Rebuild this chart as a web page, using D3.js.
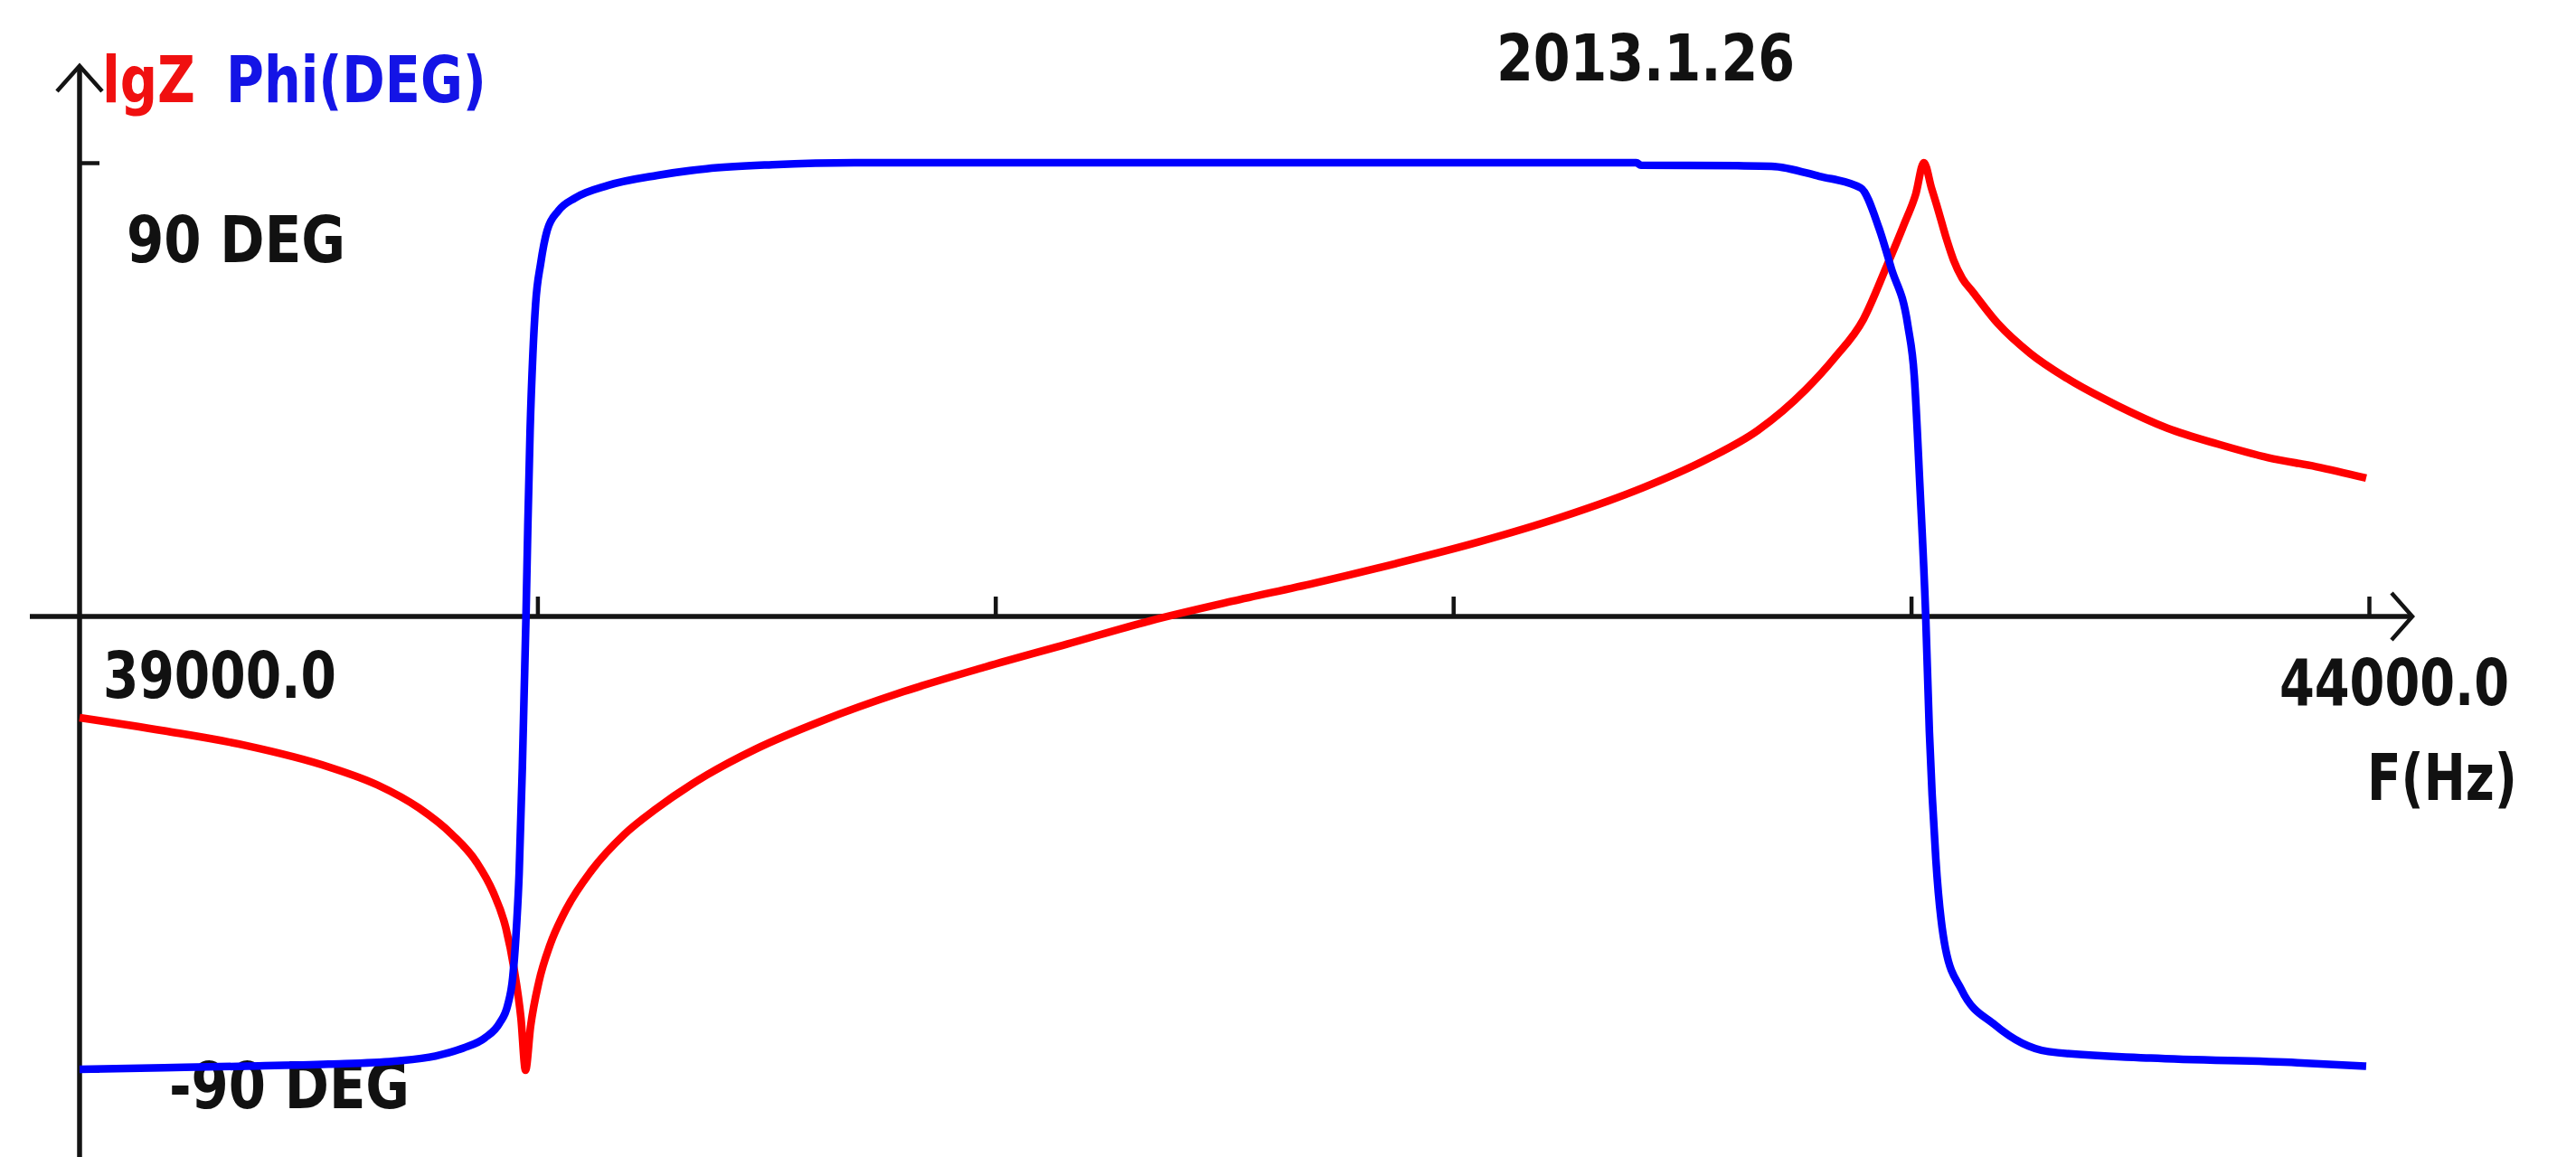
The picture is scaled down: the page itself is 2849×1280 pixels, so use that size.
<!DOCTYPE html>
<html>
<head>
<meta charset="utf-8">
<script src="https://cdn.jsdelivr.net/npm/d3@7"></script>
<style>
  html, body { margin: 0; padding: 0; background: #ffffff; }
  svg { display: block; }
  text { font-family: "DejaVu Sans Condensed", "DejaVu Sans", sans-serif; font-weight: bold; }
</style>
</head>
<body>
<svg id="chart" width="2849" height="1280"></svg>
<script>
// ---------- data ----------
const xDomain = [39000, 44000];
const xTickValues = [40000, 41000, 42000, 43000, 44000];
const xStartLabel = "39000.0";
const xEndLabel = "44000.0";
const xAxisTitle = "F(Hz)";
const phaseDomain = [-90, 90];
const phaseTickValues = [90, -90];
const phaseTopLabel = "90 DEG";
const phaseBottomLabel = "-90 DEG";
const lgzDomain = [1, 5];
const titleText = "2013.1.26";
const lgzTitle = "lgZ";
const phiTitle = "Phi(DEG)";

// impedance magnitude (lgZ) curve
const lgzFreq = [39000, 39185, 39364, 39544, 39651, 39741, 39813, 39867, 39903, 39931,
                 39949, 39964, 39974, 39985, 40003, 40028, 40064, 40118, 40190, 40261,
                 40369, 40477, 40620, 40800, 40979, 41158, 41338, 41517, 41697, 41876,
                 42055, 42235, 42414, 42558, 42665, 42770, 42833, 42896, 42946, 42985,
                 43010, 43028, 43045, 43055, 43078, 43093, 43112, 43135, 43190, 43260,
                 43340, 43450, 43560, 43670, 43780, 43885, 43994];
const lgzValues = [2.554, 2.496, 2.431, 2.337, 2.257, 2.156, 2.040, 1.917, 1.786, 1.627,
                   1.446, 1.229, 1.000, 1.193, 1.388, 1.555, 1.714, 1.880, 2.040, 2.155,
                   2.300, 2.416, 2.539, 2.669, 2.778, 2.879, 2.981, 3.067, 3.147, 3.234,
                   3.328, 3.437, 3.567, 3.697, 3.820, 4.000, 4.140, 4.310, 4.540, 4.730,
                   4.860, 5.000, 4.885, 4.820, 4.660, 4.570, 4.490, 4.430, 4.290, 4.160,
                   4.050, 3.930, 3.830, 3.760, 3.700, 3.660, 3.610];

// phase curve (degrees)
const phaseFreq = [39000, 39185, 39364, 39544, 39687, 39777, 39838, 39885, 39917, 39935,
                   39946, 39953, 39960, 39967, 39971, 39975, 39979, 39984, 39990, 39996,
                   40007, 40021, 40046, 40082, 40154, 40262, 40369, 40513, 40692, 42400,
                   42410, 42620, 42695, 42800, 42890, 42930, 42957, 42993, 43007, 43019,
                   43032, 43040, 43054, 43075, 43110, 43183, 43300, 43524, 43844, 43994];
const phaseValues = [-89.8, -89.5, -89.2, -88.8, -88.2, -87.2, -85.6, -83.6, -80.7, -77.1,
                     -71.6, -63.4, -51.0, -30.0, -15.0, 0.0, 18.0, 37.0, 52.0, 62.0,
                     70.0, 76.5, 80.5, 83.0, 85.5, 87.5, 88.8, 89.6, 90.0, 90.0,
                     89.5, 89.4, 89.3, 87.3, 85.0, 77.0, 69.0, 57.7, 47.7, 26.4,
                     0.0, -22.9, -48.0, -65.8, -74.0, -81.0, -86.3, -87.6, -88.5, -89.2];

// ---------- drawing ----------
const svg = d3.select("#chart");
svg.append("rect").attr("width", 2849).attr("height", 1280).attr("fill", "#ffffff");

const x = d3.scaleLinear().domain(xDomain).range([88, 2620]);
const yPhase = d3.scaleLinear().domain(phaseDomain).range([1184, 180]);
const yLgz = d3.scaleLinear().domain(lgzDomain).range([1184, 180]);

const axisColor = "#141414";
const y0 = yPhase(0);
const xAxisX = x(xDomain[0]);

// x axis line with open arrow
svg.append("line").attr("x1", 33).attr("x2", 2668).attr("y1", y0).attr("y2", y0)
  .attr("stroke", axisColor).attr("stroke-width", 5.5);
svg.append("path")
  .attr("d", `M${2645},${y0 - 26} L${2668},${y0} L${2645},${y0 + 26}`)
  .attr("fill", "none").attr("stroke", axisColor).attr("stroke-width", 4.5);

// x ticks (upward)
const xAxis = d3.axisTop(x).tickValues(xTickValues).tickSize(22).tickSizeOuter(0).tickFormat("");
const gx = svg.append("g").attr("transform", `translate(0,${y0})`).call(xAxis);
gx.select(".domain").remove();
gx.selectAll(".tick line").attr("stroke", axisColor).attr("stroke-width", 4.5);

// y axis line with open arrow
svg.append("line").attr("x1", xAxisX).attr("x2", xAxisX).attr("y1", 73).attr("y2", 1280)
  .attr("stroke", axisColor).attr("stroke-width", 5.5);
svg.append("path")
  .attr("d", `M${xAxisX - 25},${101} L${xAxisX},${73} L${xAxisX + 25},${101}`)
  .attr("fill", "none").attr("stroke", axisColor).attr("stroke-width", 4.5);

// y ticks (rightward) at +/-90
const yAxis = d3.axisRight(yPhase).tickValues(phaseTickValues).tickSize(22).tickSizeOuter(0).tickFormat("");
const gy = svg.append("g").attr("transform", `translate(${xAxisX},0)`).call(yAxis);
gy.select(".domain").remove();
gy.selectAll(".tick line").attr("stroke", axisColor).attr("stroke-width", 4.5);

// text labels
function label(str, x0, base, w, color) {
  svg.append("text").attr("x", x0).attr("y", base)
    .attr("font-size", 72).attr("fill", color)
    .attr("textLength", w).attr("lengthAdjust", "spacingAndGlyphs")
    .text(str);
}
label(lgzTitle, 113, 113, 103, "#f01010");
label(phiTitle, 250, 113, 288, "#1414e6");
label(titleText, 1655, 89, 330, "#111111");
label(phaseTopLabel, 140, 290, 242, "#111111");
label(phaseBottomLabel, 187, 1226, 266, "#111111");
label(xStartLabel, 114, 772, 258, "#111111");
label(xEndLabel, 2521, 780, 254, "#111111");
label(xAxisTitle, 2618, 885, 166, "#111111");

// curves
const lgzData = lgzFreq.map((f, i) => ({ f, v: lgzValues[i] }));
const phaseData = phaseFreq.map((f, i) => ({ f, v: phaseValues[i] }));

const lgzLine = d3.line().x(d => x(d.f)).y(d => yLgz(d.v)).curve(d3.curveMonotoneX);
const phaseLine = d3.line().x(d => x(d.f)).y(d => yPhase(d.v)).curve(d3.curveMonotoneX);

svg.append("path").datum(lgzData).attr("d", lgzLine)
  .attr("fill", "none").attr("stroke", "#ff0000").attr("stroke-width", 8.5)
  .attr("stroke-linejoin", "round");
svg.append("path").datum(phaseData).attr("d", phaseLine)
  .attr("fill", "none").attr("stroke", "#0000ff").attr("stroke-width", 8.5)
  .attr("stroke-linejoin", "round");
</script>
</body>
</html>
